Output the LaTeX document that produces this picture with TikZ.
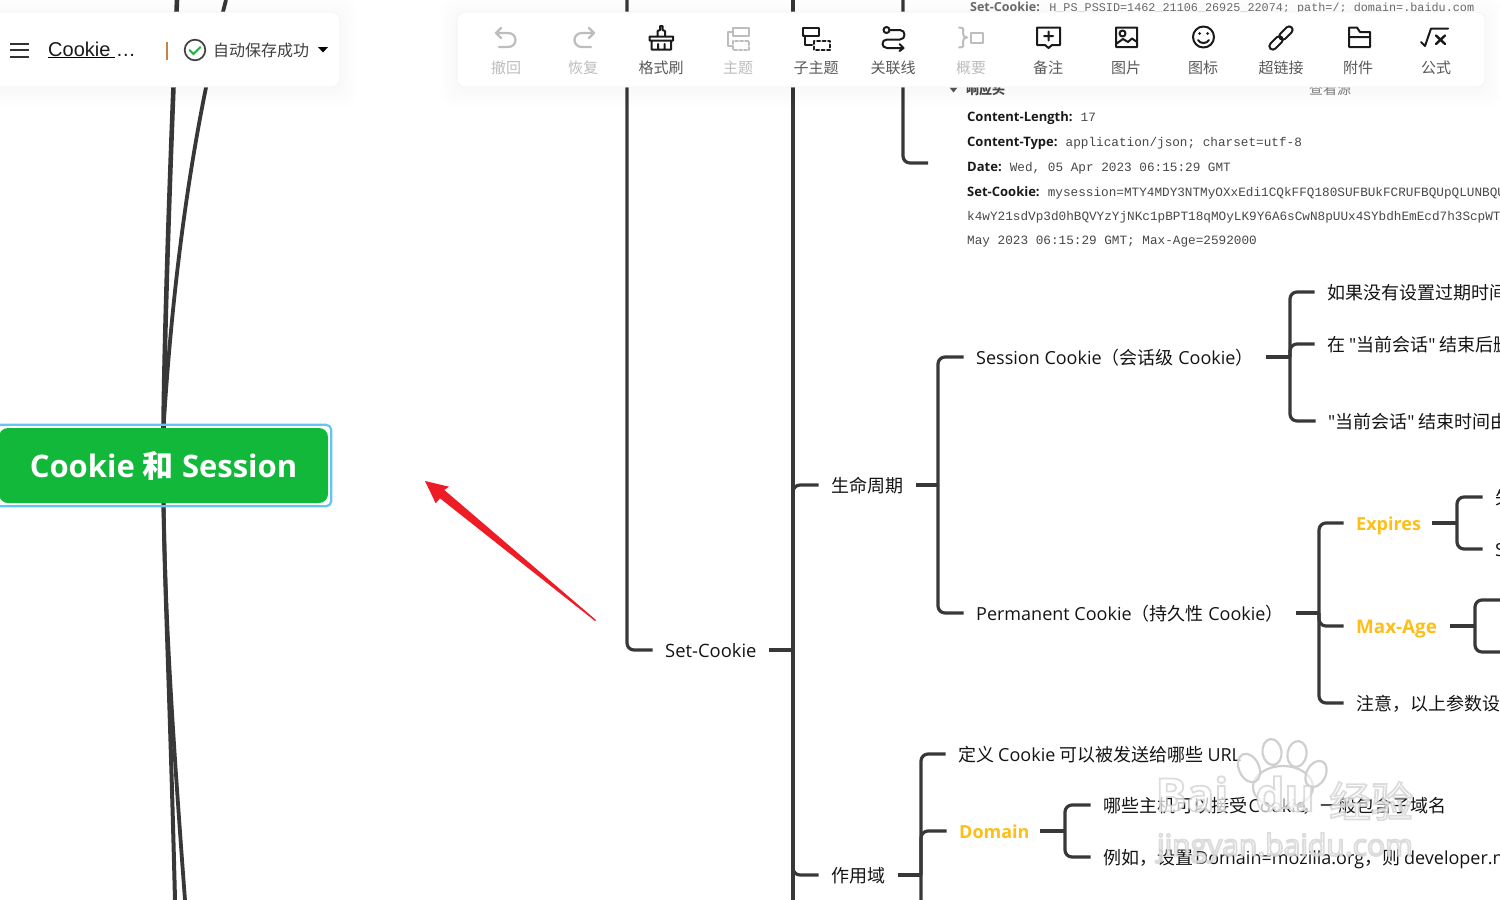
\documentclass[tikz,border=0pt]{standalone}
\usepackage{fontspec}
\usepackage{xcolor}
\usetikzlibrary{backgrounds}
\setmainfont{Noto Sans CJK SC}
\newfontfamily\en{Open Sans}
\newfontfamily\cj{Noto Sans CJK SC}
\newfontfamily\mono{Liberation Mono}
\newfontfamily\ari{Liberation Sans}
\newcommand{\fsz}[1]{\fontsize{#1}{#1}\selectfont}
\newcommand{\qt}{{\en\symbol{34}}}
\newcommand{\hd}[1]{{\en\bfseries\fsz{13}\color{black!90}#1}\hspace{-2pt}}
\definecolor{ln}{HTML}{383838}
\definecolor{gold}{HTML}{FDBE15}
\definecolor{off}{HTML}{BDBDBD}
\definecolor{act}{HTML}{1A1A1A}
\definecolor{wm}{HTML}{CFCFCF}
\definecolor{rootgreen}{HTML}{12B83A}
\definecolor{selblue}{HTML}{64C4F5}
\definecolor{arrowred}{HTML}{EE1C25}
\definecolor{sepc}{HTML}{C88246}
\tikzset{
 x=1pt,y=-1pt,
 wire/.style={draw=ln,line width=3.2pt,rounded corners=7pt},
 trunk/.style={draw=ln,line width=3.8pt},
 lbl/.style={anchor=west,inner xsep=12.5pt,inner ysep=0pt,text height=14pt,text depth=0pt,text=black!92,font=\fsz{18}},
 hot/.style={lbl,text=gold,font=\fsz{18}\bfseries},
 shot/.style={anchor=west,inner sep=0pt,text height=8pt,text depth=0pt,text=black!72,font=\mono\fsz{12.7}},
 tblabel/.style={anchor=center,inner sep=0pt,font=\fsz{15}},
 panel/.style={fill=white,draw=black!5,line width=.7pt,rounded corners=8pt},
 iconon/.style={draw=act,line width=2pt,line cap=round,line join=round},
 iconoff/.style={draw=off,line width=2pt,line cap=round,line join=round},
 wmtext/.style={anchor=center,inner sep=0pt,text=wm,text opacity=.72},
 wmpaw/.style={draw=wm,line width=2.2pt,fill=white,fill opacity=.55},
}
\newcommand{\softshadow}[4]{%
 \foreach \g in {2,5,8,11,14,17}{%
  \fill[black,opacity=.005,rounded corners=12pt] (#1-\g,#2-\g+3) rectangle (#3+\g,#4+\g+3);}}
\newcommand{\stroked}[1]{\special{pdf:code 1 1 1 rg 2 Tr 1.8 w}#1\special{pdf:code 0 Tr}}
\begin{document}
\begin{tikzpicture}
\useasboundingbox (0,0) rectangle (1500,900);

% root
\node[fill=rootgreen,rounded corners=9pt,inner sep=0pt,minimum width=329pt,minimum height=75pt,text=white,font=\en\fsz{31}\bfseries] (root) at (163.5,465.5) {\raisebox{-1.2pt}{Cookie {\cj 和} Session}};
\draw[draw=selblue,line width=2.2pt,rounded corners=5pt] ([shift={(-3,-3)}]root.north west) rectangle ([shift={(3,3)}]root.south east);
\coordinate (tA) at (177,0);
\coordinate (tB) at (226,0);
\coordinate (bA) at (175,900);
\coordinate (bB) at (185,900);
\begin{scope}[on background layer]
 \draw[trunk,line width=4.6pt] (root.north) .. controls (165,300) and (172,120) .. (tA);
 \draw[trunk] (root.north) .. controls (172,290) and (190,140) .. (tB);
 \draw[trunk,line width=4pt] (root.south) .. controls (165,600) and (170,700) .. (bA);
 \draw[trunk] (root.south) .. controls (165,600) and (170,700) .. (bB);
\end{scope}

% tree nodes
\node[lbl] (setc) at (652.5,650) {\en\fsz{18.4}Set-Cookie};
\node[lbl] (life) at (818.5,485) {生命周期\hspace{-1.5pt}};
\node[lbl] (scope) at (818.5,875) {作用域};
\node[lbl] (sess) at (963.5,357) {\en Session Cookie{\cj（会话级} Cookie{\cj）}\hspace{-1pt}};
\node[lbl] (perm) at (963.5,613) {\en Permanent Cookie{\cj（持久性} Cookie{\cj）}\hspace{-2pt}};
\node[lbl] (s1) at (1314.5,292) {如果没有设置过期时间};
\node[lbl] (s2) at (1314.5,344) {在 \qt 当前会话\qt\ 结束后删};
\node[lbl] (s3) at (1315.5,421) {\qt 当前会话\qt\ 结束时间由};
\node[hot,text width=63.5pt] (exp) at (1343.5,523) {\en\bfseries Expires};
\node[hot,text width=81.5pt] (maxa) at (1343.5,626) {\en\bfseries\fsz{18.8}Max-Age};
\node[lbl] (note) at (1343.5,703) {注意，以上参数设置};
\node[lbl] (e1) at (1482.5,497) {失};
\node[lbl] (e2) at (1482.5,549) {\en S};
\node[lbl] (d0) at (945.5,754) {定义 {\en Cookie} 可以被发送给哪些 {\en URL}};
\node[hot,text width=68.5pt] (dom) at (946.5,831) {\en\bfseries Domain};
\node[lbl] (d1) at (1090.5,805) {哪些主机可以接受\hspace{-2.5pt} {\en Cookie}\hspace{-3pt}，一般包含子域名};
\node[lbl] (d2) at (1090.5,857) {例如，设置\hspace{-2pt} {\en Domain=mozilla.org}，则 {\en developer.mozilla.org}};

\coordinate (leftTop) at (627,0);
\coordinate (spineTop) at (793,0);
\coordinate (spineEnd) at (793,900);
\coordinate (spineSet) at (793,650);
\coordinate (bLife) at (938,485);
\coordinate (bSess) at (1290,357);
\coordinate (bPerm) at (1319,613);
\coordinate (bExp) at (1457,523);
\coordinate (bMax) at (1475,626);
\coordinate (mA) at (1500,600);
\coordinate (mB) at (1500,652);
\coordinate (bScope) at (921,875);
\coordinate (bScopeEnd) at (921,900);
\coordinate (bDom) at (1065,831);
\coordinate (hdrTop) at (903,0);
\coordinate (hdrEnd) at (928,163);

\draw[wire] (spineTop) -- (spineEnd);
\draw[wire] (setc.west) -| (leftTop);
\draw[wire] (setc.east) -- (spineSet);
\draw[wire] (life.west) -| (spineSet);
\draw[wire] (scope.west) -| (spineSet);
\draw[wire] (life.east) -- (bLife);
\draw[wire] (sess.west) -| (bLife);
\draw[wire] (perm.west) -| (bLife);
\draw[wire] (sess.east) -- (bSess);
\draw[wire] (s1.west) -| (bSess);
\draw[wire] (s2.west) -| (bSess);
\draw[wire] (s3.west) -| (bSess);
\draw[wire] (perm.east) -- (bPerm);
\draw[wire] (exp.west) -| (bPerm);
\draw[wire] (maxa.west) -| (bPerm);
\draw[wire] (note.west) -| (bPerm);
\draw[wire] (exp.east) -- (bExp);
\draw[wire] (e1.west) -| (bExp);
\draw[wire] (e2.west) -| (bExp);
\draw[wire] (maxa.east) -- (bMax);
\draw[wire] (mA) -| (bMax);
\draw[wire] (mB) -| (bMax);
\draw[wire] (scope.east) -- (bScope);
\draw[wire] (d0.west) -| (bScopeEnd);
\draw[wire] (dom.west) -| (bScope);
\draw[wire] (dom.east) -- (bDom);
\draw[wire] (d1.west) -| (bDom);
\draw[wire] (d2.west) -| (bDom);
\draw[wire] (hdrEnd) -| (hdrTop);

% embedded screenshot text
\node[shot,text=black!58,font=\mono\fsz{11.8}] (h0) at (970,7) {{\en\bfseries\fsz{12.5}Set-Cookie:} H\_PS\_PSSID=1462\_21106\_26925\_22074; path=/; domain=.baidu.com};
\fill[black!65] (949.5,87.5) -- (957.5,87.5) -- (953.5,92.5) -- cycle;
\node[shot,text=black!70,font=\fsz{13}\bfseries] (h1) at (966,90) {响应头};
\node[shot,text=black!50,font=\fsz{14}] (h2) at (1309,90) {查看源};
\node[shot] (h3) at (967,117) {\hd{Content-Length:} 17};
\node[shot] (h4) at (967,142) {\hd{Content-Type:} application/json; charset=utf-8};
\node[shot] (h5) at (967,167) {\hd{Date:} Wed, 05 Apr 2023 06:15:29 GMT};
\node[shot] (h6) at (967,192) {\hd{Set-Cookie:} mysession=MTY4MDY3NTMyOXxEdi1CQkFFQ180SUFBUkFCRUFBQUpQLUNBQU};
\node[shot] (h7) at (967,216) {k4wY21sdVp3d0hBQVYzYjNKc1pBPT18qMOyLK9Y6A6sCwN8pUUx4SYbdhEmEcd7h3ScpWT};
\node[shot] (h8) at (967,240) {May 2023 06:15:29 GMT; Max-Age=2592000};

% watermark
\draw[wmpaw] (1283,787) ellipse (30 and 21);
\draw[wmpaw,rotate around={25:(1249,768)}] (1249,768) ellipse (10 and 15);
\draw[wmpaw,rotate around={8:(1272,752)}] (1272,752) ellipse (9.5 and 13);
\draw[wmpaw,rotate around={-10:(1297,754)}] (1297,754) ellipse (9.5 and 13);
\draw[wmpaw,rotate around={-28:(1316,774)}] (1316,774) ellipse (9.5 and 14);
\node[wmtext,font=\en\fsz{46}\bfseries] (wm1) at (1192,794) {\stroked{Bai}};
\node[wmtext,font=\en\fsz{46}\bfseries] (wm2) at (1285,794) {\stroked{du}};
\node[wmtext,font=\fsz{42}] (wm3) at (1371,801) {\stroked{经验}};
\node[wmtext,font=\en\fsz{30}] (wm4) at (1285,848) {\stroked{jingyan.baidu.com}};

% red arrow
\fill[arrowred] (425,481) -- (449,486.7) -- (444.3,490) -- (596,620) -- (595,621) -- (440,498.3) -- (435.7,503.3) -- cycle;

% panels
\softshadow{-10}{12}{340}{87}
\softshadow{457}{12}{1485}{87}
\draw[panel] (-12,12) rectangle (340,87);
\draw[panel] (457,12) rectangle (1485,87);

% left panel
\draw[draw=black!80,line width=2pt] (10,43.5) -- (29,43.5) (10,50) -- (29,50) (10,56.5) -- (29,56.5);
\node[anchor=west,inner sep=0pt,font=\ari\fsz{20},text=black!90] (fname) at (48,49) {Cookie \ldots};
\draw[black,line width=1.1pt] (48,57.5) -- (115,57.5);
\draw[draw=sepc,line width=1.2pt] (167,42) -- (167,60);
\draw[draw=black!75,line width=1.7pt] (195,50) circle (10.3);
\draw[draw=rootgreen,line width=1.8pt,line cap=round] (189.5,50) -- (193.5,54) -- (200.5,47);
\node[anchor=west,inner sep=0pt,font=\fsz{16},text=black!75] (saved) at (213,50) {自动保存成功};
\fill[black] (318,47) -- (328,47) -- (323,52.5) -- cycle;

% toolbar labels
\node[tblabel,text=off] (t1) at (506,67.5) {撤回};
\node[tblabel,text=off] (t2) at (583,67.5) {恢复};
\node[tblabel,text=black!65] (t3) at (661,67.5) {格式刷};
\node[tblabel,text=off] (t4) at (738,67.5) {主题};
\node[tblabel,text=black!65] (t5) at (816,67.5) {子主题};
\node[tblabel,text=black!65] (t6) at (893,67.5) {关联线};
\node[tblabel,text=off] (t7) at (971,67.5) {概要};
\node[tblabel,text=black!65] (t8) at (1048,67.5) {备注};
\node[tblabel,text=black!65] (t9) at (1126,67.5) {图片};
\node[tblabel,text=black!65] (t10) at (1203,67.5) {图标};
\node[tblabel,text=black!65] (t11) at (1281,67.5) {超链接};
\node[tblabel,text=black!65] (t12) at (1358,67.5) {附件};
\node[tblabel,text=black!65] (t13) at (1436,67.5) {公式};

% toolbar icons
\draw[iconoff,line width=2.2pt] (501,28) -- (496,33) -- (501,38) (496,33) -- (508,33) .. controls (518,33) and (518,47) .. (508,47) -- (499,47);
\draw[iconoff,line width=2.2pt] (589,28) -- (594,33) -- (589,38) (594,33) -- (582,33) .. controls (572,33) and (572,47) .. (582,47) -- (591,47);
\draw[iconon] (657.5,36) -- (657.5,31) -- (660,30) -- (660,26) -- (662.5,26) -- (662.5,30) -- (665,31) -- (665,36) (649.5,36.5) -- (673,36.5) -- (673,40.5) -- (649.5,40.5) -- cycle (651.5,40.5) -- (651.5,49.5) -- (671,49.5) -- (671,40.5) (658,44) -- (658,49.5) (664.5,44) -- (664.5,49.5);
\draw[iconoff] (733,27.5) rectangle (749,36) (733,32) -- (728,32) -- (728,46) -- (732,46);
\draw[iconoff,dash pattern=on 3pt off 2pt] (733,41) rectangle (749,50);
\draw[iconon] (803,27.5) rectangle (819,35.5) (805,35.5) -- (805,45) -- (812,45);
\draw[iconon,dash pattern=on 3pt off 2.5pt] (814,41) rectangle (830,50);
\draw[iconon] (886.5,30) circle (3) (890,30) -- (900,30) .. controls (906,30) and (906,39.5) .. (900,39.5) -- (887,39.5) .. controls (881,39.5) and (881,48) .. (887,48) -- (903,48) (899.5,44) -- (903.5,48) -- (899.5,51);
\draw[iconoff] (959,27.5) .. controls (965,27.5) and (963,30) .. (963,33) .. controls (963,36) and (964,37.5) .. (967,37.5) .. controls (964,37.5) and (963,39) .. (963,42) .. controls (963,45) and (965,47.5) .. (959,47.5);
\draw[iconoff] (971,33) rectangle (983,43);
\draw[iconon] (1037,27.5) -- (1060,27.5) -- (1060,45) -- (1052,45) -- (1048.5,48) -- (1045,45) -- (1037,45) -- cycle (1048.5,31.5) -- (1048.5,40.5) (1044,36) -- (1053,36);
\draw[iconon] (1116,27.5) rectangle (1137,47) (1122.5,33.5) circle (3) (1116,44) -- (1123,39) -- (1128,42) -- (1132,38.5) -- (1137,42);
\draw[iconon] (1203.5,37) circle (10.5) (1198,40) .. controls (1200,44) and (1207,44) .. (1209,40);
\fill[act] (1199.5,33.5) circle (1.5) (1207.5,33.5) circle (1.5);
\begin{scope}[rotate around={45:(1281,38)}]
\draw[iconon,rounded corners=3.5pt] (1266,34.5) rectangle (1282,41.5);
\draw[iconon,rounded corners=3.5pt] (1280,34.5) rectangle (1296,41.5);
\end{scope}
\draw[iconon] (1349,27.5) -- (1357,27.5) -- (1360,32) -- (1370,32) -- (1370,47) -- (1349,47) -- cycle (1349,37) -- (1370,37);
\draw[iconon] (1421,42) -- (1425,46) -- (1431,28.5) -- (1448,28.5);
\draw[iconon,line width=2.4pt] (1436,35.5) -- (1445,44) (1445,35.5) -- (1436,44);
\end{tikzpicture}
\end{document}
